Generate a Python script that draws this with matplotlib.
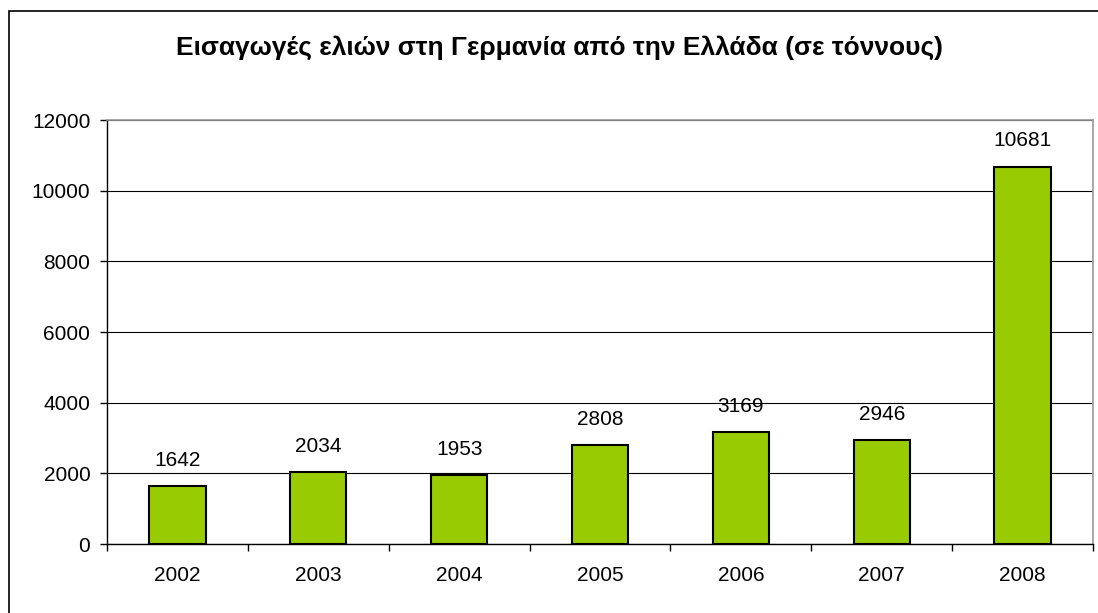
import matplotlib
matplotlib.use("Agg")
import matplotlib.pyplot as plt
from matplotlib.patches import Rectangle

years = ["2002", "2003", "2004", "2005", "2006", "2007", "2008"]
values = [1642, 2034, 1953, 2808, 3169, 2946, 10681]
title = "Εισαγωγές ελιών στη Γερμανία από την Ελλάδα (σε τόννους)"

plt.rcParams['font.family'] = ['Liberation Sans', 'DejaVu Sans']

W, H = 1098, 613
fig = plt.figure(figsize=(W / 100, H / 100), dpi=100)

# outer chart border (extends past right/bottom edges)
fig.patches.append(Rectangle((8.5 / W, -0.05), 1.1, 1 - 10.5 / H + 0.05,
                             transform=fig.transFigure, fill=False,
                             edgecolor='black', linewidth=1.2))

ax = fig.add_axes([107 / W, 1 - 544 / H, (1093 - 107) / W, (544 - 120) / H])
x = list(range(len(years)))
bars = ax.bar(x, values, width=0.4, color='#99CC00', edgecolor='black',
              linewidth=1.5, zorder=3)
ax.set_xlim(-0.5, len(years) - 0.5)
ax.set_ylim(0, 12000)
ax.set_yticks(range(0, 12001, 2000))
ax.yaxis.grid(True, color='black', linewidth=0.8, zorder=0)
ax.set_xticks(x)
ax.set_xticklabels(years)
ax.set_xticks([i - 0.5 for i in range(len(years) + 1)], minor=True)
ax.tick_params(axis='x', which='major', length=0, pad=16, labelsize=15)
ax.tick_params(axis='x', which='minor', length=5, width=1, color='black')
ax.tick_params(axis='y', length=5, width=1, labelsize=15, pad=7)

for s in ['top', 'right']:
    ax.spines[s].set_color('#999999')
    ax.spines[s].set_linewidth(1.2)
for s in ['left', 'bottom']:
    ax.spines[s].set_color('black')
    ax.spines[s].set_linewidth(1.0)

for xi, v in zip(x, values):
    ax.annotate(str(v), (xi, v), xytext=(0, 14.5), textcoords='offset points',
                ha='center', va='baseline', fontsize=15)

fig.text(560 / W, 1 - 48 / H, title, ha='center', va='center',
         fontsize=19, fontweight='bold')

fig.savefig("out.png", dpi=100)
